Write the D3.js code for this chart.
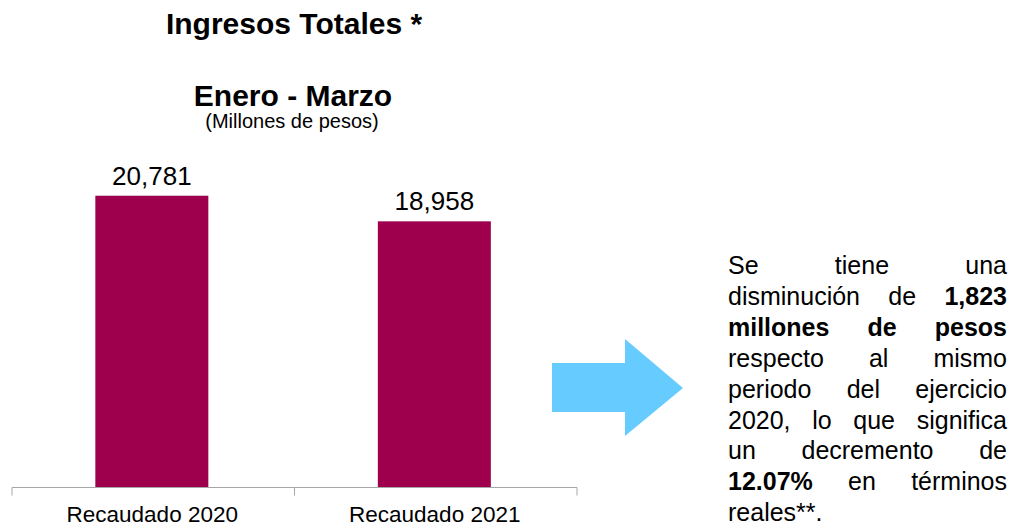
<!DOCTYPE html>
<meta charset="utf-8">
<style>
body { margin: 0; background: #fff; }
text { font-family: "Liberation Sans", Arial, sans-serif; fill: #000; }
</style>
<svg width="1011" height="527"></svg>
<script src="https://cdnjs.cloudflare.com/ajax/libs/d3/7.8.5/d3.min.js"></script>
<script>

// data
var categories = ["Recaudado 2020", "Recaudado 2021"];
var values = [20781, 18958];
var title = "Ingresos Totales *";
var subtitle = "Enero - Marzo";
var units = "(Millones de pesos)";

// note on the right; words marked with * are bold
var noteLines = [
  ["Se", "tiene", "una"],
  ["disminución", "de", "*1,823"],
  ["*millones", "*de", "*pesos"],
  ["respecto", "al", "mismo"],
  ["periodo", "del", "ejercicio"],
  ["2020,", "lo", "que", "significa"],
  ["un", "decremento", "de"],
  ["*12.07%", "en", "términos"],
  ["reales**."]
];

var svg = d3.select("svg"),
    width = +svg.attr("width"),
    height = +svg.attr("height");

var x = d3.scaleBand()
    .domain(categories)
    .range([12, 577])
    .padding(0);

var y = d3.scaleLinear()
    .domain([0, 25000])
    .range([487.5, 136.5]);

var fmt = d3.format(",");

// titles
svg.append("text")
    .attr("x", 294).attr("y", 34)
    .attr("text-anchor", "middle")
    .style("font-size", "30px").style("font-weight", "bold")
    .text(title);

svg.append("text")
    .attr("x", 293).attr("y", 106)
    .attr("text-anchor", "middle")
    .style("font-size", "30px").style("font-weight", "bold")
    .text(subtitle);

svg.append("text")
    .attr("x", 292).attr("y", 128)
    .attr("text-anchor", "middle")
    .style("font-size", "20px")
    .text(units);

// bars
svg.append("g").selectAll("rect")
    .data(values)
    .enter().append("rect")
      .attr("x", function(d, i) { return x(categories[i]) + x.bandwidth() * 0.295; })
      .attr("width", x.bandwidth() * 0.4)
      .attr("y", function(d) { return y(d); })
      .attr("height", function(d) { return y(0) - y(d); })
      .attr("fill", "#9e004d");

svg.append("g").selectAll("text")
    .data(values)
    .enter().append("text")
      .attr("x", function(d, i) { return x(categories[i]) + x.bandwidth() * 0.495; })
      .attr("y", function(d) { return y(d) - 11; })
      .attr("text-anchor", "middle")
      .style("font-size", "26px")
      .text(function(d) { return fmt(d); });

// axis: line with ticks at the band edges
var axis = svg.append("g").attr("class", "axis");
axis.append("line")
    .attr("x1", x.range()[0]).attr("x2", x.range()[1])
    .attr("y1", y(0)).attr("y2", y(0))
    .attr("stroke", "#a6a6a6").attr("stroke-width", 1);

var edges = categories.map(function(c) { return x(c); }).concat([x.range()[1]]);
axis.selectAll(".tick")
    .data(edges)
    .enter().append("line")
      .attr("x1", function(d) { return d; }).attr("x2", function(d) { return d; })
      .attr("y1", y(0)).attr("y2", y(0) + 8)
      .attr("stroke", "#a6a6a6").attr("stroke-width", 1);

axis.selectAll(".lbl")
    .data(categories)
    .enter().append("text")
      .attr("x", function(d) { return x(d) + x.bandwidth() / 2 - 1; })
      .attr("y", 522)
      .attr("text-anchor", "middle")
      .style("font-size", "22.5px")
      .text(function(d) { return d; });

// arrow
svg.append("path")
    .attr("d", "M552,363 L625,363 L625,339 L683,388 L625,436 L625,412 L552,412 Z")
    .attr("fill", "#66ccff");

// justified note
var left = 728, right = 1007, top0 = 274, lineH = 30.9;
var note = svg.append("g").style("font-size", "25px");

noteLines.forEach(function(words, li) {
  var yy = top0 + li * lineH;
  var nodes = words.map(function(w) {
    var bold = w.charAt(0) === "*";
    return note.append("text")
        .attr("y", yy)
        .style("font-weight", bold ? "bold" : "normal")
        .text(bold ? w.slice(1) : w);
  });
  var widths = nodes.map(function(t) { return t.node().getComputedTextLength(); });
  var total = d3.sum(widths);
  var last = li === noteLines.length - 1;
  var gap = (last || nodes.length < 2) ? 7 : (right - left - total) / (nodes.length - 1);
  var cx = left;
  nodes.forEach(function(t, i) {
    t.attr("x", cx);
    cx += widths[i] + gap;
  });
});

</script>
